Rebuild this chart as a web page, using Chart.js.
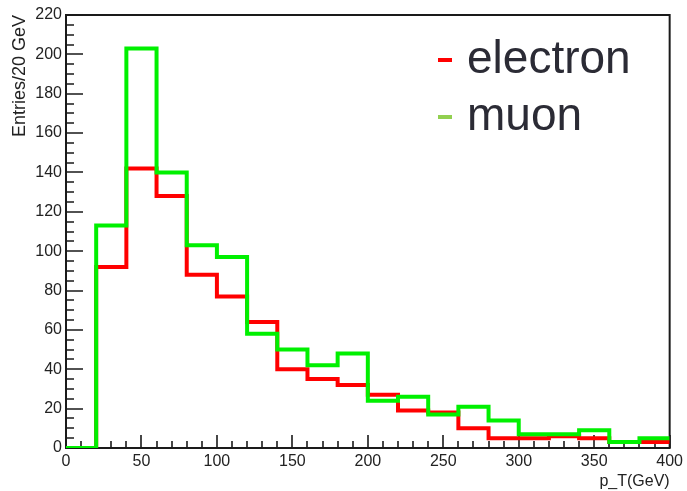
<!DOCTYPE html>
<html>
<head>
<meta charset="utf-8">
<script src="https://cdn.jsdelivr.net/npm/chart.js@4.4.0/dist/chart.umd.min.js"></script>
<style>
html, body { margin: 0; padding: 0; background: #fff; }
</style>
</head>
<body>
<canvas id="histChart" width="687" height="491"></canvas>
<script>
// bin edges of p_T (GeV), 20 GeV per bin
const binEdges = [0, 20, 40, 60, 80, 100, 120, 140, 160, 180, 200, 220, 240, 260, 280, 300, 320, 340, 360, 380, 400];
// entries per bin
const electron = [0, 92, 142, 128, 88, 77, 64, 40, 35, 32, 27, 19, 18, 10, 5, 5, 6, 5, 3, 3];
const muon = [0, 113, 203, 140, 103, 97, 58, 50, 42, 48, 24, 26, 17, 21, 14, 7, 7, 9, 3, 5];
const seriesNames = ['electron', 'muon'];
const yLabelText = 'Entries/20 GeV';
const xLabelText = 'p_T(GeV)';

function toSteps(values) {
    return binEdges.map(function (x, i) {
        return { x: x, y: values[Math.min(i, values.length - 1)] };
    });
}

const frameTicks = {
    id: 'frameTicks',
    beforeDatasetsDraw(chart) {
        const ctx = chart.ctx;
        const a = chart.chartArea;
        const x = chart.scales.x;
        const y = chart.scales.y;
        ctx.save();
        ctx.strokeStyle = '#1a1a1a';
        ctx.lineWidth = 2;
        ctx.strokeRect(a.left, a.top, a.right - a.left, a.bottom - a.top);
        ctx.lineWidth = 1.6;
        ctx.beginPath();
        for (let v = 0; v <= 220; v += 5) {
            const py = Math.round(y.getPixelForValue(v));
            const len = v % 20 === 0 ? 17 : 8;
            ctx.moveTo(a.left, py);
            ctx.lineTo(a.left + len, py);
        }
        for (let v = 0; v <= 400; v += 10) {
            const px = Math.round(x.getPixelForValue(v));
            const len = v % 50 === 0 ? 13 : 7;
            ctx.moveTo(px, a.bottom);
            ctx.lineTo(px, a.bottom - len);
        }
        ctx.stroke();
        ctx.restore();
    },
    afterDraw(chart) {
        const ctx = chart.ctx;
        ctx.save();
        ctx.font = '46px "Liberation Sans", Arial, sans-serif';
        ctx.fillStyle = '#2b2b35';
        ctx.textBaseline = 'alphabetic';
        ctx.fillText(seriesNames[0], 467, 73);
        ctx.fillText(seriesNames[1], 467, 130);
        ctx.fillStyle = '#ff0000';
        ctx.fillRect(438, 58, 14, 4);
        ctx.fillStyle = '#92d050';
        ctx.fillRect(438, 115, 14, 4);
        ctx.restore();
    }
};

const ctx = document.getElementById('histChart').getContext('2d');
const histChart = new Chart(ctx, {
    type: 'line',
    data: {
        datasets: [{
            label: seriesNames[1],
            data: toSteps(muon),
            borderColor: '#00f000',
            borderWidth: 4,
            stepped: 'before',
            fill: false,
            pointRadius: 0
        }, {
            label: seriesNames[0],
            data: toSteps(electron),
            borderColor: '#ff0000',
            borderWidth: 4,
            stepped: 'before',
            fill: false,
            pointRadius: 0
        }]
    },
    options: {
        responsive: false,
        animation: false,
        layout: { padding: { top: 15, right: 16, left: 0, bottom: 0 } },
        plugins: { legend: { display: false }, tooltip: { enabled: false } },
        scales: {
            x: {
                type: 'linear',
                min: 0,
                max: 400,
                grid: { display: false, drawTicks: false },
                border: { display: false },
                ticks: {
                    stepSize: 50,
                    padding: 4,
                    maxRotation: 0,
                    color: '#222',
                    font: { family: '"Liberation Sans", Arial, sans-serif', size: 16 }
                },
                title: {
                    display: true,
                    text: xLabelText,
                    align: 'end',
                    color: '#222',
                    padding: 0,
                    font: { family: '"Liberation Sans", Arial, sans-serif', size: 16 }
                },
                afterFit: function (scale) { scale.height = 43; }
            },
            y: {
                min: 0,
                max: 220,
                grid: { display: false, drawTicks: false },
                border: { display: false },
                ticks: {
                    stepSize: 20,
                    padding: 4,
                    color: '#222',
                    font: { family: '"Liberation Sans", Arial, sans-serif', size: 16 }
                },
                title: {
                    display: true,
                    text: yLabelText,
                    align: 'end',
                    color: '#222',
                    padding: { top: 9, bottom: 0 },
                    font: { family: '"Liberation Sans", Arial, sans-serif', size: 18 }
                },
                afterFit: function (scale) { scale.width = 66; }
            }
        }
    },
    plugins: [frameTicks]
});
</script>
</body>
</html>
